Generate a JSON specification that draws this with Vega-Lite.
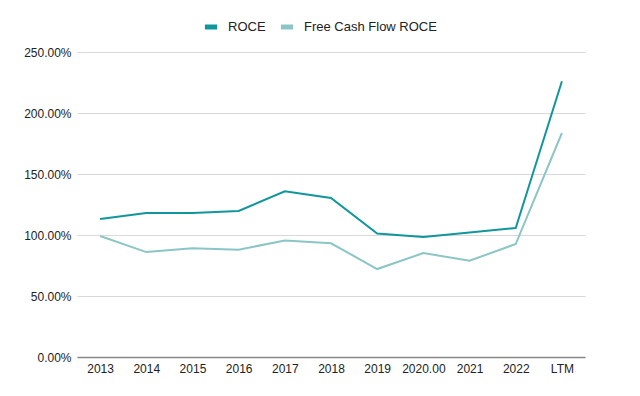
{
  "$schema": "https://vega.github.io/schema/vega-lite/v6.json",
  "width": 508,
  "height": 305,
  "autosize": {"type": "none"},
  "padding": {"left": 77, "top": 52, "right": 55, "bottom": 39},
  "background": "white",
  "config": {
    "view": {"stroke": null},
    "font": "Liberation Sans"
  },
  "data": {
    "values": [
      {"year": "2013", "series": "ROCE", "value": 1.131},
      {"year": "2014", "series": "ROCE", "value": 1.18},
      {"year": "2015", "series": "ROCE", "value": 1.18},
      {"year": "2016", "series": "ROCE", "value": 1.197},
      {"year": "2017", "series": "ROCE", "value": 1.358},
      {"year": "2018", "series": "ROCE", "value": 1.303},
      {"year": "2019", "series": "ROCE", "value": 1.012},
      {"year": "2020.00", "series": "ROCE", "value": 0.984},
      {"year": "2021", "series": "ROCE", "value": 1.02},
      {"year": "2022", "series": "ROCE", "value": 1.057},
      {"year": "LTM", "series": "ROCE", "value": 2.26},
      {"year": "2013", "series": "Free Cash Flow ROCE", "value": 0.992},
      {"year": "2014", "series": "Free Cash Flow ROCE", "value": 0.86},
      {"year": "2015", "series": "Free Cash Flow ROCE", "value": 0.891},
      {"year": "2016", "series": "Free Cash Flow ROCE", "value": 0.88},
      {"year": "2017", "series": "Free Cash Flow ROCE", "value": 0.954},
      {"year": "2018", "series": "Free Cash Flow ROCE", "value": 0.932},
      {"year": "2019", "series": "Free Cash Flow ROCE", "value": 0.721},
      {"year": "2020.00", "series": "Free Cash Flow ROCE", "value": 0.852},
      {"year": "2021", "series": "Free Cash Flow ROCE", "value": 0.789},
      {"year": "2022", "series": "Free Cash Flow ROCE", "value": 0.926},
      {"year": "LTM", "series": "Free Cash Flow ROCE", "value": 1.836}
    ]
  },
  "mark": {"type": "line", "strokeWidth": 2},
  "encoding": {
    "x": {
      "field": "year",
      "type": "ordinal",
      "sort": null,
      "title": null,
      "scale": {"type": "point", "padding": 0.5},
      "axis": {
        "labelAngle": 0,
        "ticks": false,
        "labelPadding": 6,
        "labelFontSize": 12,
        "labelColor": "#222",
        "domainColor": "#888",
        "domainWidth": 1.5,
        "grid": false
      }
    },
    "y": {
      "field": "value",
      "type": "quantitative",
      "title": null,
      "scale": {"domain": [0, 2.5]},
      "axis": {
        "values": [0, 0.5, 1, 1.5, 2, 2.5],
        "format": ".2%",
        "ticks": false,
        "domain": false,
        "labelPadding": 6,
        "labelFontSize": 12,
        "labelColor": "#222",
        "gridColor": "#d9d9d9"
      }
    },
    "color": {
      "field": "series",
      "type": "nominal",
      "sort": ["ROCE", "Free Cash Flow ROCE"],
      "scale": {"domain": ["ROCE", "Free Cash Flow ROCE"], "range": ["#11969b", "#8cc5c5"]},
      "legend": {
        "title": null,
        "orient": "none",
        "direction": "horizontal",
        "legendX": 125,
        "legendY": -34,
        "symbolType": "stroke",
        "symbolStrokeWidth": 5,
        "symbolSize": 150,
        "labelFontSize": 13,
        "labelColor": "#222",
        "columnPadding": 4,
        "labelOffset": 8
      }
    }
  }
}
